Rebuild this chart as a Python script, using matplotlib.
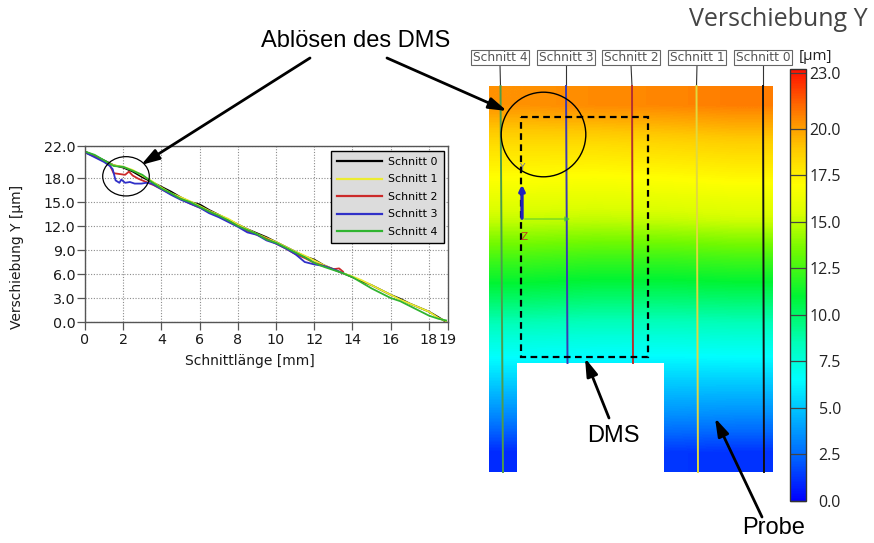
import numpy as np
import matplotlib
matplotlib.use("Agg")
import matplotlib.pyplot as plt
from matplotlib.colors import LinearSegmentedColormap, Normalize
from matplotlib.patches import Rectangle, Ellipse, Circle

# ---------------------------------------------------------------------------
# Profile data along the cuts: Schnittlänge [mm] -> Verschiebung Y [µm]
# ---------------------------------------------------------------------------
x_long = [0, 0.5, 1.0, 1.5, 2.0, 2.5, 3.0, 3.5, 4.0, 4.5, 5.0, 5.5, 6.0, 6.5,
          7.0, 7.5, 8.0, 8.5, 9.0, 9.5, 10.0, 10.5, 11.0, 11.5, 12.0, 12.5,
          13.0, 13.5, 14.0, 14.5, 15.0, 15.5, 16.0, 16.5, 17.0, 17.5, 18.0,
          18.5, 18.9]
schnitt0 = [21.3, 20.8, 20.2, 19.6, 19.3, 18.8, 18.1, 17.5, 16.9, 16.3,
            15.6, 15.0, 14.7, 14.0, 13.4, 12.8, 12.2, 11.6, 11.1, 10.6,
            10.0, 9.4, 8.8, 8.2, 7.8, 7.1, 6.6, 6.1, 5.6, 5.1,
            4.6, 4.0, 3.4, 2.9, 2.3, 1.8, 1.3, 0.6, 0.0]
schnitt1 = [21.2, 20.7, 20.1, 19.6, 19.4, 19.0, 18.3, 17.6, 16.8, 16.1,
            15.6, 15.1, 14.5, 13.9, 13.4, 12.9, 12.2, 11.6, 11.0, 10.5,
            10.0, 9.4, 8.8, 8.3, 7.7, 7.1, 6.6, 6.1, 5.7, 5.2,
            4.6, 4.0, 3.4, 2.8, 2.3, 1.8, 1.3, 0.5, 0.1]
schnitt4 = [21.3, 20.9, 20.2, 19.5, 19.4, 18.9, 18.4, 17.5, 16.7, 16.1,
            15.4, 15.0, 14.4, 13.8, 13.3, 12.7, 12.0, 11.5, 11.0, 10.3,
            9.9, 9.3, 8.7, 8.1, 7.4, 6.9, 6.5, 6.1, 5.6, 4.9,
            4.2, 3.6, 3.0, 2.6, 2.0, 1.4, 0.8, 0.4, 0.2]

x_schnitt2 = [0, 0.5, 1.0, 1.3, 1.5, 1.8, 2.1, 2.3, 2.5, 2.8,
              3.0, 3.3, 3.6, 4.0, 4.5, 5.0, 5.5, 6.0, 6.5, 7.0,
              7.5, 8.0, 8.5, 9.0, 9.5, 10.0, 10.5, 11.0, 11.5, 12.0,
              12.5, 13.0, 13.3, 13.5]
schnitt2 = [21.2, 20.7, 20.1, 19.6, 18.6, 18.5, 18.4, 18.8, 18.3, 17.9,
            17.7, 17.4, 17.1, 16.6, 16.0, 15.4, 14.8, 14.3, 13.8, 13.2,
            12.6, 12.0, 11.4, 10.9, 10.4, 9.8, 9.2, 8.5, 8.0, 7.4,
            7.0, 6.6, 6.7, 6.3]

x_schnitt3 = [0, 0.5, 1.0, 1.3, 1.45, 1.6, 1.8, 1.9, 2.1, 2.35,
              2.6, 2.95, 3.2, 3.5, 4.0, 4.5, 5.0, 5.5, 6.0, 6.5,
              7.0, 7.5, 8.0, 8.5, 9.0, 9.5, 10.0, 10.5, 11.0, 11.5,
              12.0, 12.5, 13.0, 13.5]
schnitt3 = [21.2, 20.6, 20.0, 19.5, 19.1, 17.7, 17.4, 17.8, 17.4, 17.5,
            17.3, 17.3, 17.4, 17.3, 16.6, 15.9, 15.3, 14.8, 14.3, 13.6,
            13.1, 12.5, 11.9, 11.2, 10.9, 10.2, 9.8, 9.2, 8.5, 7.5,
            7.2, 7.0, 6.6, 6.1]

series_names = ["Schnitt 0", "Schnitt 1", "Schnitt 2", "Schnitt 3", "Schnitt 4"]
series_x = [x_long, x_long, x_schnitt2, x_schnitt3, x_long]
series_y = [schnitt0, schnitt1, schnitt2, schnitt3, schnitt4]
series_colors = ["#000000", "#ecec30", "#cc2a2a", "#3030c8", "#30b430"]

x_ticks = [0, 2, 4, 6, 8, 10, 12, 14, 16, 18, 19]
y_ticks = [0.0, 3.0, 6.0, 9.0, 12.0, 15.0, 18.0, 22.0]

# ---------------------------------------------------------------------------
# Displacement field Y on the specimen surface [µm]
# rows: top -> bottom, columns: left -> right
# ---------------------------------------------------------------------------
field_rows = [
    [20.3, 20.5, 20.6, 20.8],
    [18.2, 18.2, 18.4, 18.6],
    [16.8, 16.7, 16.8, 17.0],
    [15.0, 14.9, 15.0, 15.2],
    [12.4, 12.2, 12.2, 12.4],
    [10.1, 9.9, 9.9, 10.0],
    [7.6, 7.5, 7.5, 7.6],
    [5.6, 5.6, 5.5, 5.5],
    [3.4, 3.6, 3.6, 3.5],
    [1.0, 1.3, 1.3, 1.2],
]
cbar_ticks = [0.0, 2.5, 5.0, 7.5, 10.0, 12.5, 15.0, 17.5, 20.0, 23.0]
cut_labels = ["Schnitt 4", "Schnitt 3", "Schnitt 2", "Schnitt 1", "Schnitt 0"]

# ---------------------------------------------------------------------------
W, H, DPI = 874, 543, 100
fig = plt.figure(figsize=(W / DPI, H / DPI), dpi=DPI)
fig.patch.set_facecolor("white")


def fig_rect(left, top, right, bottom):
    """Axes rectangle from pixel edges (origin top-left)."""
    return [left / W, 1 - bottom / H, (right - left) / W, (bottom - top) / H]


# ---------------- left: line profiles ----------------
ax = fig.add_axes(fig_rect(85, 146, 448, 322))
for xs, ys, name, col in zip(series_x, series_y, series_names, series_colors):
    ax.plot(xs, ys, color=col, lw=1.3, label=name, solid_joinstyle="round")

ax.set_xlim(0, 19)
ax.set_ylim(0, 22)
ax.set_xticks(x_ticks)
ax.set_xticklabels([f"{t:d}" for t in x_ticks])
ax.set_yticks(y_ticks)
ax.set_yticklabels([f"{t:.1f}" for t in y_ticks])
ax.grid(True, color="#8c8c8c", lw=0.8, ls=(0, (1, 1.5)))
ax.set_axisbelow(True)
for sp in ax.spines.values():
    sp.set_color("#555555")
    sp.set_linewidth(1.0)
ax.tick_params(axis="both", direction="out", length=6, width=0.9,
               color="#555555", labelsize=10.3, labelcolor="#1a1a1a")
ax.tick_params(axis="y", pad=1)
ax.tick_params(axis="x", pad=2)

ax.set_xlabel("Schnittlänge [mm]", fontsize=10, color="#1a1a1a")
ax.xaxis.label.set_va("center")
ax.xaxis.set_label_coords((250 - 85) / 363, (322 - 361) / 176)
ax.set_ylabel("Verschiebung Y [µm]", fontsize=10, color="#1a1a1a")
ax.yaxis.label.set_va("center")
ax.yaxis.label.set_ha("center")
ax.yaxis.set_label_coords((17 - 85) / 363, (322 - 257) / 176)

leg = ax.legend(loc="upper right", bbox_to_anchor=(0.989, 0.972),
                borderaxespad=0, fontsize=7.9, handlelength=4.1,
                handletextpad=0.6, labelspacing=0.68, borderpad=0.55,
                fancybox=False, edgecolor="black", facecolor="#dcdcdc",
                framealpha=1)
leg.get_frame().set_linewidth(1.0)
for line in leg.get_lines():
    line.set_linewidth(1.6)

# ---------------- right: displacement field ----------------
cmap = LinearSegmentedColormap.from_list(
    "verschiebung",
    [(0.0 / 23.2, (0.00, 0.00, 1.00)),
     (2.5 / 23.2, (0.00, 0.42, 1.00)),
     (5.0 / 23.2, (0.00, 0.78, 1.00)),
     (6.5 / 23.2, (0.00, 1.00, 1.00)),
     (8.5 / 23.2, (0.00, 1.00, 0.72)),
     (11.0 / 23.2, (0.00, 0.96, 0.20)),
     (13.5 / 23.2, (0.45, 0.98, 0.00)),
     (15.5 / 23.2, (0.86, 1.00, 0.00)),
     (17.0 / 23.2, (1.00, 1.00, 0.00)),
     (19.0 / 23.2, (1.00, 0.78, 0.00)),
     (20.5 / 23.2, (1.00, 0.55, 0.00)),
     (23.2 / 23.2, (1.00, 0.06, 0.00))])
norm = Normalize(vmin=0.0, vmax=23.2)

ov = fig.add_axes([0, 0, 1, 1], zorder=5)
ov.set_xlim(0, W)
ov.set_ylim(H, 0)
ov.axis("off")

field = np.array(field_rows)
im = ov.imshow(field, cmap=cmap, norm=norm, interpolation="bilinear",
               extent=(489, 773, 472, 86), aspect="auto", origin="upper",
               zorder=1)
ov.set_xlim(0, W)
ov.set_ylim(H, 0)
# notch below the strain gauge (no surface)
ov.add_patch(Rectangle((517, 363), 147, 112, fc="white", ec="none", zorder=2))

# section lines drawn on the surface
cut_geom = [(500.5, 503.0, 472, "#4c9c4c"),
            (566.0, 567.5, 363, "#3a3ab4"),
            (632.0, 633.0, 363, "#b43030"),
            (696.5, 698.0, 472, "#e0d840"),
            (763.0, 764.0, 472, "#111111")]
box_cx = [500, 566, 631, 697, 763]
for (xt, xb, yb, col), cx, lab in zip(cut_geom, box_cx, cut_labels):
    ov.plot([cx, xt], [65, 86], color="#333333", lw=0.8, zorder=3)
    ov.plot([xt, xb], [86, yb], color=col, lw=1.4, zorder=3)
    ov.text(cx, 57.5, lab, ha="center", va="center", fontsize=8.8,
            color="#555555", zorder=4,
            bbox=dict(boxstyle="square,pad=0.12", fc="white", ec="#666666",
                      lw=0.8))

# strain gauge outline
ov.add_patch(Rectangle((521, 117), 127, 240, fill=False, ec="black", lw=1.6,
                       ls=(0, (3, 2)), zorder=4))
# detachment region
ov.add_patch(Circle((543.5, 134.5), 42.3, fill=False, ec="black", lw=1.0,
                    zorder=4))
ov.add_patch(Ellipse((126, 176.3), 46.6, 39.3, fill=False, ec="black",
                     lw=0.9, zorder=4))

# coordinate system glyph
ov.annotate("", xy=(522, 182), xytext=(522, 221),
            arrowprops=dict(arrowstyle="-|>", color="#2020c0", lw=2.4,
                            mutation_scale=8), zorder=4)
ov.annotate("", xy=(573, 219), xytext=(522, 219),
            arrowprops=dict(arrowstyle="-|>", color="#40c040", lw=1.0,
                            mutation_scale=7, alpha=0.6), zorder=4)
ov.text(522, 167, "Y", fontsize=6.5, color="#6a6ab0", ha="center",
        va="center", zorder=4)
ov.text(524.5, 237, "Z", fontsize=7.5, color="#c04020", ha="center",
        va="center", zorder=4)

# colour bar
cax = fig.add_axes(fig_rect(790, 69, 806, 501))
cb = fig.colorbar(im, cax=cax, ticks=cbar_ticks)
cb.outline.set_edgecolor("#333333")
cb.outline.set_linewidth(1.0)
cax.tick_params(direction="in", length=11.5, width=0.9, color="#444444",
                pad=25.2, labelsize=11.5, labelcolor="#222222")
cax.set_yticklabels([f"{t:.1f}" for t in cbar_ticks], fontfamily="Open Sans")
for t in cax.get_yticklabels():
    t.set_ha("right")
fig.text(815 / W, 1 - 56 / H, "[µm]", fontsize=11, family="Open Sans",
         color="#222222", ha="center", va="center")
fig.text(868 / W, 1 - 19 / H, "Verschiebung Y", fontsize=18,
         family="Open Sans", color="#444444", ha="right", va="center")

# ---------------- callouts ----------------
ann_font = dict(family="Liberation Sans", fontsize=17, color="black")
ov.text(356, 41, "Ablösen des DMS", ha="center", va="center", zorder=6,
        **ann_font)
ov.text(613, 436, "DMS", ha="center", va="center", zorder=6, **ann_font)
ov.text(774, 528, "Probe", ha="center", va="center", zorder=6, **ann_font)

arrow_kw = dict(arrowstyle="-|>,head_length=0.9,head_width=0.28",
                color="black", lw=2.0, mutation_scale=12,
                shrinkA=0, shrinkB=0)
for tail, tip in [((310, 58), (141, 165)),
                  ((387, 58), (507, 111)),
                  ((609, 418), (585, 358)),
                  ((762, 517), (715, 418))]:
    ov.annotate("", xy=tip, xytext=tail, arrowprops=arrow_kw, zorder=6)

fig.savefig("out.png", dpi=DPI)
